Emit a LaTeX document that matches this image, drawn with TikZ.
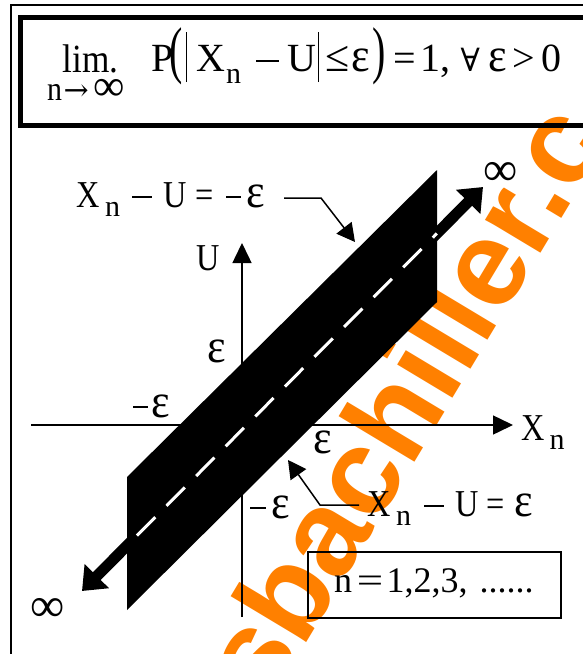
\documentclass[tikz,border=0pt]{standalone}
\usepackage{fontspec}
\usepackage{graphicx}
\setmainfont{Liberation Serif}
\newfontfamily\wmfont{Liberation Sans}
\newfontfamily\symf{DejaVu Serif}
\usetikzlibrary{arrows.meta,calc}
\definecolor{wmorange}{RGB}{255,128,0}
\newcommand\cx[1]{\scalebox{0.85}[1]{#1}}
\newcommand\bigpar[1]{\scalebox{1}[1.58]{#1}}
\newcommand\fbar{\rule[-11pt]{1.2pt}{50pt}}
\newcommand\subn{\raisebox{-12pt}{\fontsize{30}{30}\selectfont n}}
\newcommand\subnc{\raisebox{-9pt}{\fontsize{30}{30}\selectfont n}}
\newcommand\mns[1]{\rule[9.5pt]{#1}{1.7pt}}
\newcommand\eps{{\fontsize{48}{48}\selectfont\scalebox{0.92}[1]{ε}}}
\begin{document}
\begin{tikzpicture}[x=1pt,y=-1pt,
  lbl/.style={inner sep=0pt, anchor=base west, font=\fontsize{38}{38}\selectfont},
  fml/.style={inner sep=0pt, anchor=base west, font=\fontsize{40}{40}\selectfont},
  inf/.style={inner sep=0pt, anchor=base, font=\fontsize{48}{48}\selectfont},
  boxtxt/.style={inner sep=0pt, anchor=base west, font=\fontsize{36}{36}\selectfont},
  axis/.style={line width=1.5pt, -{Triangle[length=20pt,width=19pt]}},
  pointer/.style={line width=1.5pt, -{Triangle[length=18pt,width=19pt]}},
  shaft/.style={line width=11pt, {Triangle[length=21pt,width=33pt]}-{Triangle[length=21pt,width=33pt]}},
  dashln/.style={white, line width=3pt, dash pattern=on 26pt off 16pt},
  wm/.style={font=\wmfont\bfseries\fontsize{122}{122}\selectfont, text=wmorange, rotate=59, anchor=base west, inner sep=0pt},
  frame/.style={line width=1.5pt},
  thickbox/.style={line width=5pt}
]
\useasboundingbox (0,0) rectangle (583,654);
\fill[white] (0,0) rectangle (583,654);
% watermark
\begin{scope}
\clip (0,0) rectangle (583,654);
\node[wm] (wm) at (267,708) {sbachiller.c};
\end{scope}
% frames
\draw[frame] (11,660) -- (11,5) -- (590,5);
\draw[thickbox] (20,17) rectangle (620,125.5);
% formula
\node[fml] (lim) at (62.5,72) {\scalebox{0.88}[1]{lim.}};
\node[inner sep=0pt, anchor=base west, font=\fontsize{34}{34}\selectfont] (limsub) at (47,100) {\scalebox{0.88}[1]{n}\hspace{1.5pt}{\symf\fontsize{30}{30}\selectfont →}\hspace{5pt}{\fontsize{44}{44}\selectfont ∞}};
\node[fml] (fm) at (151,71) {P\hspace{-4pt}\bigpar{(}\hspace{3pt}\fbar\hspace{9.8pt}X\hspace{0.5pt}\subn\hspace{15pt}\mns{23pt}\hspace{8.5pt}U\hspace{1.6pt}\fbar\hspace{6.5pt}{\fontsize{44}{44}\selectfont ≤}\hspace{1.6pt}\eps\hspace{2pt}\bigpar{)}\hspace{7.7pt}=\hspace{4.4pt}1,\hspace{10.5pt}{\symf\fontsize{32}{32}\selectfont ∀}\hspace{8.5pt}\eps\hspace{6pt}>\hspace{6.4pt}0};
% axes
\coordinate (xa) at (31,425);
\coordinate (xb) at (513,425);
\coordinate (ua) at (242,617);
\coordinate (ub) at (242,243);
\draw[axis] (xa) -- (xb);
\draw[axis] (ua) -- (ub);
% band
\coordinate (b1) at (127,477);
\coordinate (b2) at (437,170);
\coordinate (b3) at (437,302);
\coordinate (b4) at (127,610);
\fill[black] (b1) -- (b2) -- (b3) -- (b4) -- cycle;
% shaft
\coordinate (sa) at (82,591);
\coordinate (sb) at (483,187);
\draw[shaft] (sa) -- (sb);
\coordinate (da) at ($(sa)!0.137!(sb)$);
\coordinate (db) at ($(sa)!0.885!(sb)$);
\draw[dashln] (da) -- (db);
% labels
\node[lbl] (lab1) at (76.5,207) {\cx{X}\hspace{5pt}\subnc\hspace{12pt}\mns{20pt}\hspace{11.5pt}\cx{U}\hspace{8.2pt}\cx{=}\hspace{12.8pt}\mns{15pt}\hspace{5pt}\eps};
\node[lbl] (lab2) at (367.5,516) {\cx{X}\hspace{5pt}\subnc\hspace{13pt}\mns{20pt}\hspace{11.5pt}\cx{U}\hspace{7.2pt}\cx{=}\hspace{10.3pt}\eps};
\node[lbl] (xlab) at (521,440) {\cx{X}\hspace{5pt}\subnc};
\node[lbl] (ulab) at (196.5,270) {\cx{U}};
\node[lbl] (eps1) at (207.5,362) {\eps};
\node[lbl] (meps1) at (133,417) {\mns{15pt}\hspace{3.5pt}\eps};
\node[lbl] (eps2) at (313.5,453) {\eps};
\node[lbl] (meps2) at (250,518) {\mns{16pt}\hspace{5.5pt}\eps};
\node[inf] (inf1) at (501,185) {∞};
\node[inf] (inf2) at (47.5,621) {∞};
% pointers
\coordinate (p1s) at (284,198);
\coordinate (p1m) at (321,198);
\coordinate (p1e) at (355,242);
\draw[pointer] (p1s) -- (p1m) -- (p1e);
\coordinate (p2s) at (359,505);
\coordinate (p2m) at (320,505);
\coordinate (p2e) at (288,460);
\draw[pointer] (p2s) -- (p2m) -- (p2e);
% n box
\node[draw, line width=1.5pt, minimum width=253pt, minimum height=66pt, inner sep=0pt] (nbox) at (434.5,585) {};
\node[boxtxt] (ntxt) at (334,592) {n\hspace{4.7pt}\scalebox{1.3}[1]{=}\hspace{3.4pt}1,2,3,\hspace{12pt}......};
\end{tikzpicture}
\end{document}
